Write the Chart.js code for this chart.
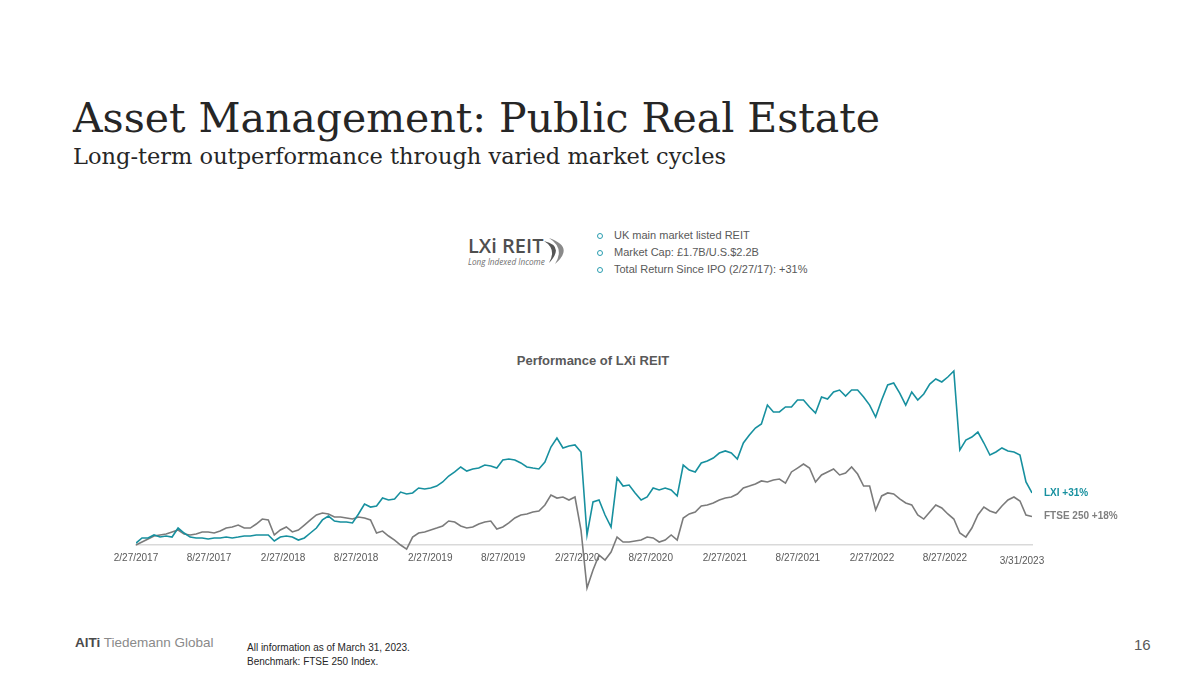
<!DOCTYPE html>
<html>
<head>
<meta charset="utf-8">
<script src="https://cdn.jsdelivr.net/npm/chart.js@4.4.0/dist/chart.umd.min.js"></script>
<style>
html,body{margin:0;padding:0;background:#fff;}
#page{position:relative;width:1200px;height:675px;overflow:hidden;font-family:'Liberation Sans',Arial,sans-serif;}
.abs{position:absolute;white-space:nowrap;}
#title{left:73px;top:98px;font-family:'DejaVu Serif',serif;font-size:41px;line-height:1;color:#262626;}
#subtitle{left:73px;top:145px;font-family:'DejaVu Serif',serif;font-size:22.5px;line-height:1;color:#262626;}
#logo{left:468px;top:235px;}
#logoText{font-family:'Open Sans','Liberation Sans',sans-serif;font-weight:600;font-size:20px;line-height:22px;color:#4f4f4f;}
#logoSub{font-family:'Open Sans','Liberation Sans',sans-serif;font-style:italic;font-size:8.2px;line-height:9px;color:#6f6f6f;margin-top:0px;}
#swoosh{position:absolute;left:76px;top:2px;}
#bullets{left:597px;top:227px;font-size:11px;line-height:17px;color:#595959;}
#bullets div{position:relative;padding-left:17px;}
#bullets div span.b{position:absolute;left:0;top:6px;width:4px;height:4px;border:1.2px solid #2a9db0;border-radius:50%;}
#chartTitle{left:0;width:1186px;text-align:center;top:353px;font-size:13px;font-weight:bold;color:#595959;line-height:16px;}
#brand{left:75px;top:635px;font-size:13.5px;color:#8a8a8a;line-height:16px;}
#brand b{color:#4a4a4a;font-weight:bold;}
#notes{left:247px;top:641px;font-size:10px;line-height:14px;color:#262626;}
#pageNum{left:1134px;top:637px;font-size:15px;color:#595959;line-height:16px;}
canvas{position:absolute;left:0;top:0;}
</style>
</head>
<body>
<div id="page">
  <div id="title" class="abs">Asset Management: Public Real Estate</div>
  <div id="subtitle" class="abs">Long-term outperformance through varied market cycles</div>
  <div id="logo" class="abs">
    <div id="logoText">LXi REIT</div>
    <div id="logoSub">Long Indexed Income</div>
    <svg id="swoosh" width="28" height="28" viewBox="0 0 28 28">
      <path d="M0 4 Q21 9 5 26 Q13 12 0 4Z" fill="#555"/>
      <path d="M5 1 Q31 10 11 27 Q21 11 5 1Z" fill="#8a8a8a"/>
    </svg>
  </div>
  <div id="bullets" class="abs">
    <div><span class="b"></span>UK main market listed REIT</div>
    <div><span class="b"></span>Market Cap: £1.7B/U.S.$2.2B</div>
    <div><span class="b"></span>Total Return Since IPO (2/27/17): +31%</div>
  </div>
  <div id="chartTitle" class="abs">Performance of LXi REIT</div>
  <div id="brand" class="abs"><b>AlTi</b> Tiedemann Global</div>
  <div id="notes" class="abs">All information as of March 31, 2023.<br>Benchmark: FTSE 250 Index.</div>
  <div id="pageNum" class="abs">16</div>
  <canvas id="c" width="1200" height="675"></canvas>
</div>
<script>
// ---- data ----
const startDate = '2017-02-27';
const endDate = '2023-03-31';
const tickDates = ['2017-02-27','2017-08-27','2018-02-27','2018-08-27','2019-02-27','2019-08-27',
                   '2020-02-27','2020-08-27','2021-02-27','2021-08-27','2022-02-27','2022-08-27'];
const tickLabels = ['2/27/2017','8/27/2017','2/27/2018','8/27/2018','2/27/2019','8/27/2019',
                    '2/27/2020','8/27/2020','2/27/2021','8/27/2021','2/27/2022','8/27/2022'];
const endLabel = '3/31/2023';
const seriesNames = ['LXI +31%', 'FTSE 250 +18%'];
// total return (%) since 2/27/2017, evenly spaced samples through 3/31/2023
const lxiReturns = [
  1.3, 4.7, 4.7, 6.7, 5.3, 6, 5.3, 11.3, 8, 5.3,
  4.7, 4.7, 4, 4.7, 4.7, 5.3, 4.7, 5.3, 6, 6,
  6.7, 6.7, 6.7, 2.7, 5.3, 6, 5.3, 3.3, 4.7, 8,
  11.3, 16.7, 19.3, 16, 15.3, 15.3, 14.7, 20.7, 27.3, 25.3,
  26, 31.3, 30, 30.7, 35.3, 34, 34.7, 38, 37.3, 38,
  39.3, 42, 46, 48.7, 52, 49.3, 50.7, 51.3, 53.3, 52.7,
  51.3, 56.7, 57.3, 56.7, 54.7, 52, 51.3, 50.7, 55.3, 65.3,
  71.3, 64.7, 66, 66.7, 62, 6.7, 28.7, 30, 20, 12,
  44.7, 39.3, 40, 34.7, 30, 32, 38, 36.7, 38, 36.7,
  32.7, 53.3, 50, 48.7, 54.7, 56, 58, 61.3, 62.7, 61.3,
  57.3, 68, 73.3, 78, 80.7, 93.3, 88.7, 88.7, 92, 92,
  96.7, 96.7, 92, 88, 98.7, 97.3, 102, 103.3, 99.3, 103.3,
  103.3, 98.7, 93.3, 85.3, 96.7, 106.7, 108, 101.3, 93.3, 102,
  96.7, 100.7, 107.3, 110.7, 108.7, 112, 116, 63.3, 70, 72,
  75.3, 68, 60, 62, 64.7, 62.7, 62, 60, 42, 34.7
];
const ftseReturns = [
  0, 2, 4, 6, 6.7, 7.3, 8.7, 10, 7.3, 6.7,
  7.3, 8.7, 8.7, 8, 9.3, 11.3, 12, 13.3, 11.3, 11.3,
  14, 17.3, 16.7, 6.7, 10, 12, 8.7, 10, 13.3, 16.7,
  20, 21.3, 20.7, 18.7, 18.7, 18, 17.3, 18.7, 18, 16.7,
  8, 9.3, 6, 3.3, 0, -2.7, 5.3, 8, 8.7, 10,
  11.3, 12.7, 16, 15.3, 12.7, 11.3, 12, 14, 15.3, 16,
  10.7, 12, 14.7, 18, 20, 20.7, 22, 22.7, 26.7, 33.3,
  31.3, 32, 30, 32, 10, -28.7, -16.7, -6.7, -10, -4.7,
  5.3, 2, 2, 2.7, 3.3, 5.3, 4.7, 2, 3.3, 6.7,
  3.3, 18, 20.7, 22, 26, 26.7, 28, 30, 31.3, 32,
  34, 38, 39.3, 40.7, 42.7, 42, 43.3, 44, 41.3, 48.7,
  51.3, 54, 51.3, 42, 46.7, 48.7, 50.7, 46.7, 48, 52,
  47.3, 39.3, 39.3, 23.3, 32.7, 34.7, 34, 30.7, 28, 26.7,
  20, 17.3, 22, 26.7, 24.7, 20.7, 17.3, 8, 5.3, 11.3,
  20, 25.3, 22.7, 21.3, 26, 30, 32, 29.3, 20, 19
];
const colors = ['#17909f', '#7b7b7b'];

// ---- helpers ----
const DAY = 86400000;
const dayOffset = d => (Date.parse(d) - Date.parse(startDate)) / DAY;
const totalDays = dayOffset(endDate);
const toPoints = arr => arr.map((v, i) => ({x: i * totalDays / (arr.length - 1), y: v}));

const endLabelsPlugin = {
  id: 'endLabels',
  afterDatasetsDraw(chart) {
    const ctx = chart.ctx;
    ctx.save();
    ctx.font = 'bold 10px "Liberation Sans", Arial, sans-serif';
    ctx.textBaseline = 'middle';
    ctx.textAlign = 'left';
    chart.data.datasets.forEach((ds, i) => {
      const meta = chart.getDatasetMeta(i);
      const last = meta.data[meta.data.length - 1];
      ctx.fillStyle = i === 0 ? colors[0] : '#7f7f7f';
      ctx.fillText(seriesNames[i], last.x + 12, last.y);
    });
    const xs = chart.scales.x, ys = chart.scales.y;
    ctx.font = '10px "Liberation Sans", Arial, sans-serif';
    ctx.fillStyle = '#595959';
    ctx.textAlign = 'center';
    ctx.fillText(endLabel, xs.getPixelForValue(totalDays) - 10, ys.getPixelForValue(0) + 16);
    ctx.restore();
  }
};

new Chart(document.getElementById('c'), {
  type: 'line',
  data: {
    datasets: [
      {label: seriesNames[0], data: toPoints(lxiReturns), borderColor: colors[0], borderWidth: 1.6},
      {label: seriesNames[1], data: toPoints(ftseReturns), borderColor: colors[1], borderWidth: 1.6}
    ]
  },
  options: {
    responsive: false,
    animation: false,
    layout: {padding: {left: 136, right: 168, top: 365, bottom: 77.5}},
    elements: {point: {radius: 0}, line: {tension: 0}},
    plugins: {legend: {display: false}, tooltip: {enabled: false}, title: {display: false}},
    scales: {
      x: {
        type: 'linear', min: 0, max: totalDays,
        position: {y: 0},
        grid: {display: false, drawTicks: false},
        border: {display: true, color: '#d9d9d9', width: 1.5},
        afterBuildTicks: s => { s.ticks = tickDates.map(d => ({value: dayOffset(d)})); },
        ticks: {
          autoSkip: false, maxRotation: 0, minRotation: 0, padding: 7,
          color: '#595959', font: {family: 'Liberation Sans', size: 10},
          callback: (v, i) => tickLabels[i]
        }
      },
      y: {display: false, min: -35, max: 120}
    }
  },
  plugins: [endLabelsPlugin]
});
</script>
</body>
</html>
